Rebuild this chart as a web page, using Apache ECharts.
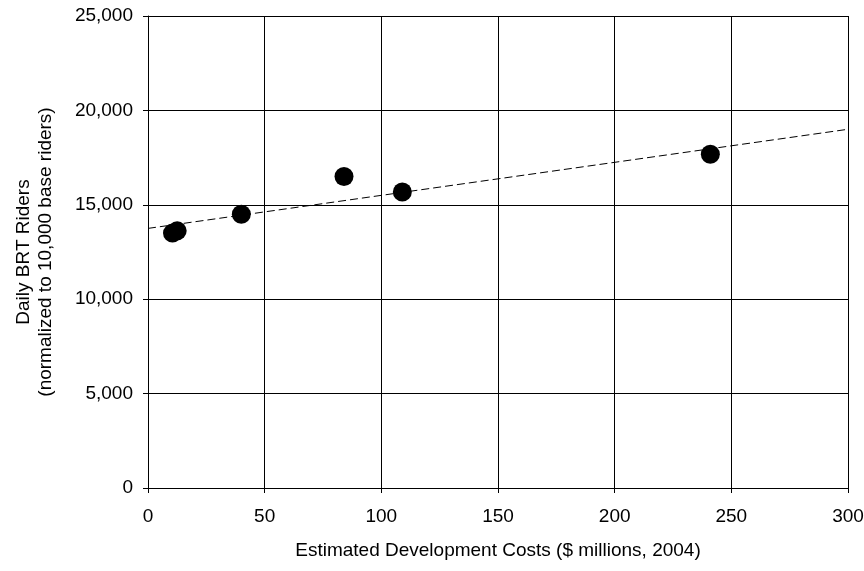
<!DOCTYPE html>
<html>
<head>
<meta charset="utf-8">
<script src="https://cdn.jsdelivr.net/npm/echarts@6/dist/echarts.min.js"></script>
<style>
  html, body { margin: 0; padding: 0; background: #fff; }
  #main { width: 864px; height: 571px; }
</style>
</head>
<body>
<div id="main"></div>
<script>
// cost ($ millions, 2004) vs daily riders
var costs = [10.5, 12.5, 40, 84, 109, 241];
var riders = [13500, 13620, 14500, 16500, 15680, 17680];
// linear trend end points
var trendX = [0, 300];
var trendY = [13750, 19000];

var points = costs.map(function (c, i) { return [c, riders[i]]; });
var trend = trendX.map(function (x, i) { return [x, trendY[i]]; });

var chart = echarts.init(document.getElementById('main'));
var font = 'Liberation Sans, Arial, sans-serif';

chart.setOption({
  backgroundColor: '#ffffff',
  animation: false,
  grid: { left: 148, right: 16, top: 16, bottom: 83, outerBoundsMode: 'none', containLabel: false },
  xAxis: {
    type: 'value',
    min: 0, max: 300, interval: 50,
    name: 'Estimated Development Costs ($ millions, 2004)',
    nameLocation: 'middle',
    nameGap: 53,
    nameTextStyle: { color: '#000', fontFamily: font, fontSize: 19 },
    axisLine: { show: true, lineStyle: { color: '#000', width: 1 } },
    axisTick: { show: true, inside: false, length: 5, lineStyle: { color: '#000' } },
    axisLabel: { color: '#000', fontFamily: font, fontSize: 19, margin: 19 },
    splitLine: { show: true, lineStyle: { color: '#000', width: 1 } }
  },
  yAxis: {
    type: 'value',
    min: 0, max: 25000, interval: 5000,
    name: 'Daily BRT Riders\n(normalized to 10,000 base riders)',
    nameLocation: 'middle',
    nameGap: 91,
    nameTextStyle: { color: '#000', fontFamily: font, fontSize: 19, lineHeight: 22 },
    axisLine: { show: true, lineStyle: { color: '#000', width: 1 } },
    axisTick: { show: true, inside: false, length: 5, lineStyle: { color: '#000' } },
    axisLabel: {
      color: '#000', fontFamily: font, fontSize: 19, margin: 15,
      formatter: function (v) { return v.toLocaleString('en-US'); }
    },
    splitLine: { show: true, lineStyle: { color: '#000', width: 1 } }
  },
  series: [
    {
      type: 'line',
      data: trend,
      symbol: 'none',
      lineStyle: { color: '#000', width: 1, type: [8, 4] },
      z: 2
    },
    {
      type: 'scatter',
      data: points,
      symbol: 'circle',
      symbolSize: 19,
      itemStyle: { color: '#000', opacity: 1 },
      z: 3
    }
  ]
});
</script>
</body>
</html>
